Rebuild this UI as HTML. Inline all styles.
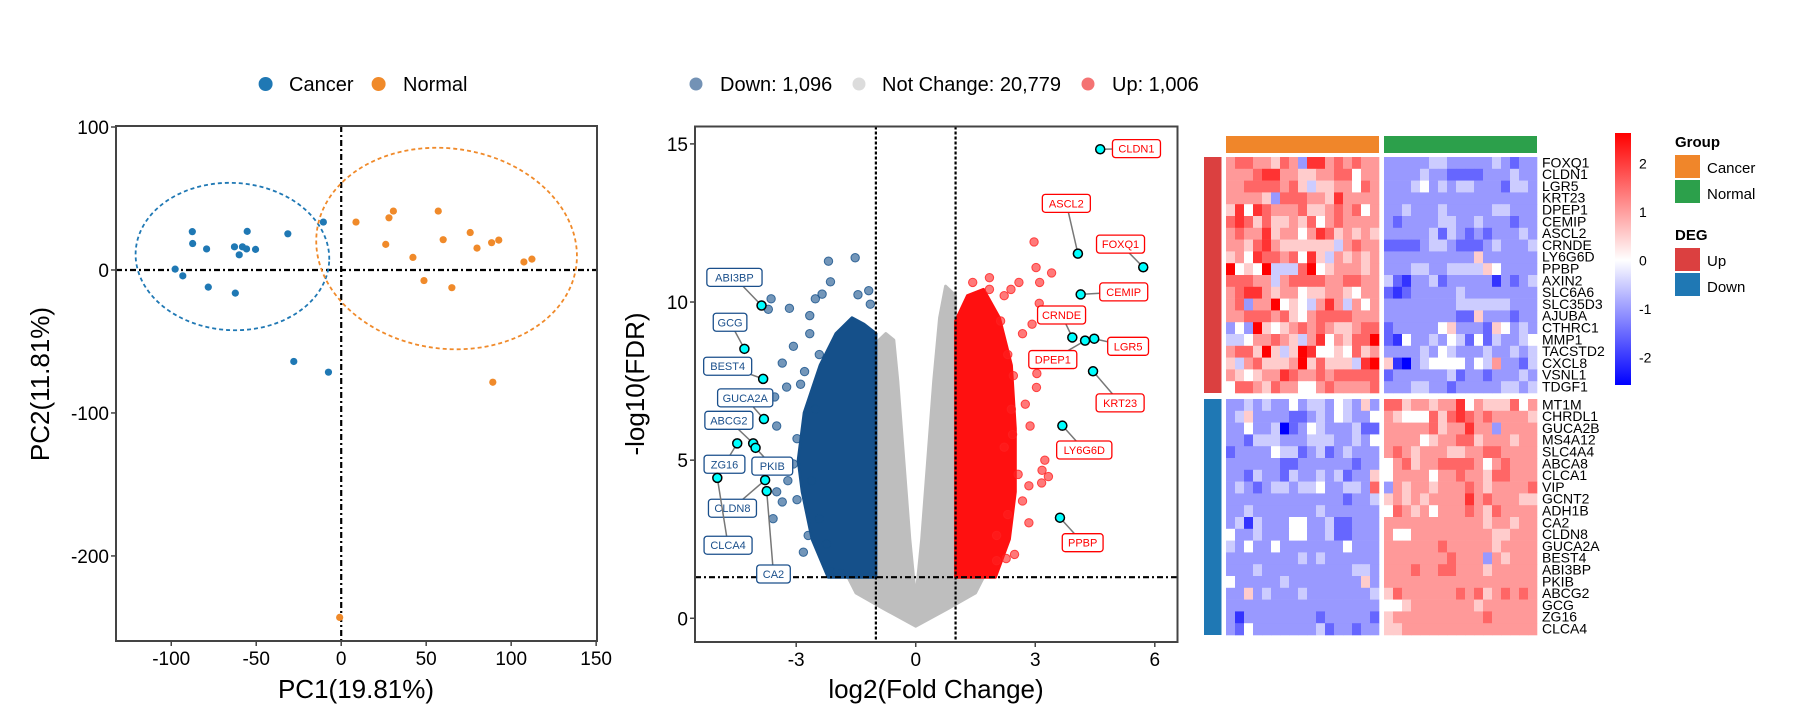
<!DOCTYPE html>
<html><head><meta charset="utf-8">
<style>
html,body{margin:0;padding:0;background:#fff;}
svg{display:block;font-family:"Liberation Sans",Arial,sans-serif;}
</style></head>
<body>
<svg id="fig" width="1800" height="720" viewBox="0 0 1800 720" xmlns="http://www.w3.org/2000/svg">
<g id="pca"></g>
<g id="volcano"></g>
<g id="heat"></g>
</svg>
<script>
// ---------------- PCA data ----------------
const pcaCancerX = [-97.7,-93.2,-87.6,-87.4,-79.2,-78.2,-62.8,-62.3,-60,-58.1,-55.7,-55.3,-50.4,-31.4,-10.5,-27.9,-7.5];
const pcaCancerY = [0.6,-4.1,26.8,18.5,14.7,-12,16.2,-16.2,10.6,16.2,14.7,27,14.4,25.3,33.5,-64,-71.5];
const pcaNormalX = [8.7,26.2,28.1,30.7,42.2,48.7,57.1,60,65.1,75.9,79.9,88.5,92.7,107.5,112.2,89.2,-0.9];
const pcaNormalY = [33.5,17.9,36.5,41.2,8.8,-7.4,41.2,21.2,-12.4,26.2,15.3,19.1,20.9,5.6,7.6,-78.5,-243];
const pcaXTicks = [-100,-50,0,50,100,150];
const pcaYTicks = [100,0,-100,-200];
const pcaEllipseCancer = [-64,9.4,57,51.5];
const pcaEllipseNormal = [62,15,77,70];

// ---------------- Volcano data ----------------
const volXTicks = [-3,0,3,6];
const volYTicks = [0,5,10,15];
const volLegend = ["Down: 1,096","Not Change: 20,779","Up: 1,006"];
const grayCloudX = [0,0.8,1.5,1.7,1,1,0.75,0.6,0.45,0.3,0.15,0,-0.15,-0.3,-0.45,-0.55,-0.75,-1,-1,-1.7,-1.5,-0.8];
const grayCloudY = [-0.25,0.3,0.8,1.3,1.3,10.2,10.5,9.5,7.5,5,2.5,0.6,2.5,5,7.5,8.8,9,8.7,1.3,1.3,0.8,0.3];
const blueCloudX = [-1,-1,-1.3,-1.6,-2.0,-2.4,-2.8,-2.95,-2.85,-2.6,-2.2];
const blueCloudY = [1.3,9,9.3,9.5,9,8,6.5,5,4,2.5,1.3];
const redCloudX = [1,1,1.3,1.7,2.1,2.4,2.5,2.5,2.35,2.0];
const redCloudY = [1.3,9.4,10.2,10.4,9.5,8,6,4,2.5,1.3];
const downX = [-2.19,-1.52,-2.14,-2.35,-2.52,-3.17,-3.63,-3.7,-2.66,-1.18,-1.45,-1.14,-3.35,-3.07,-3.54,-3.24,-3.49,-2.89,-3.35,-3.58,-3.35,-3.49,-2.98,-2.82,-2.7,-2.14,-1.87,-2.61,-2.98,-2.52,-2.42,-2.66,-2.79,-3.07,-3.21,-2.42,-2.24];
const downY = [11.29,11.4,10.64,10.25,10.1,9.8,10.1,9.77,9.57,10.36,10.23,9.93,8.07,8.6,7.0,7.31,6.08,7.4,4.88,3.15,3.68,4.0,3.75,2.09,2.62,1.49,1.42,4.35,5.68,6.61,8.34,9.0,7.8,4.88,4.35,3.15,2.35];
const upX = [2.97,3.02,3.41,3.11,2.59,2.39,2.92,2.68,3.1,3.04,3.03,2.45,2.75,2.87,2.43,3.24,3.17,3.33,3.16,2.84,2.68,2.84,2.48,2.27,2.03,2.57,1.85,1.43,2.22,1.85,2.13,2.31,2.4,2.22,2.31,2.03];
const upY = [11.9,11.09,10.92,10.62,10.62,10.4,9.3,9.0,9.96,7.74,7.3,7.67,6.77,6.08,5.81,5.0,4.68,4.48,4.28,4.19,3.71,3.02,2.02,1.89,1.82,4.55,10.77,10.62,10.2,10.4,9.4,8.34,6.61,5.41,3.28,2.62];
const hlGenes = ["CLDN1","ASCL2","FOXQ1","CEMIP","CRNDE","DPEP1","LGR5","KRT23","LY6G6D","PPBP","ABI3BP","GCG","BEST4","GUCA2A","ABCG2","ZG16","PKIB","CLDN8","CA2","CLCA4"];
const hlX = [4.63,4.07,5.71,4.14,3.93,4.25,4.48,4.45,3.68,3.62,-3.87,-4.3,-3.83,-3.81,-4.08,-4.48,-4.02,-3.78,-3.74,-4.98];
const hlY = [14.83,11.53,11.1,10.24,8.88,8.78,8.84,7.81,6.09,3.18,9.89,8.52,7.57,6.3,5.53,5.53,5.39,4.37,4.02,4.44];
const hlLabX = [5.54,3.78,5.14,5.22,3.66,3.44,5.33,5.13,4.23,4.19,-4.55,-4.66,-4.72,-4.28,-4.69,-4.8,-3.6,-4.6,-3.57,-4.71];
const hlLabY = [14.85,13.12,11.83,10.32,9.59,8.18,8.6,6.81,5.32,2.39,10.78,9.36,7.97,6.97,6.26,4.87,4.81,3.48,1.4,2.31];
const hlDir = ["up","up","up","up","up","up","up","up","up","up","down","down","down","down","down","down","down","down","down","down"];

// ---------------- Heatmap data ----------------
const upGenes = ["FOXQ1","CLDN1","LGR5","KRT23","DPEP1","CEMIP","ASCL2","CRNDE","LY6G6D","PPBP","AXIN2","SLC6A6","SLC35D3","AJUBA","CTHRC1","MMP1","TACSTD2","CXCL8","VSNL1","TDGF1"];
const downGenes = ["MT1M","CHRDL1","GUCA2B","MS4A12","SLC4A4","ABCA8","CLCA1","VIP","GCNT2","ADH1B","CA2","CLDN8","GUCA2A","BEST4","ABI3BP","PKIB","ABCG2","GCG","ZG16","CLCA4"];
// digit code: value = (d-5)/2, 'A' = 2.5 ; first string = Cancer samples, second = Normal samples
const upCancer = ["78877687399787877","77789977667788577","77888878646677587","77776388877697777","69598777866787857","89868667685787777","78779677579867676","77689766666647877","67598878596476767","A565A4448A5677767","88877478888778877","78997677566776577","78377A56547974757","77888786578888777","353A6567878766788","4457787647957688A","7886A646A95565867","64786667A6866649A","76567798778788888","58876877557877778"];
const upNormal = ["33333443333343233","33334332222333433","33345343443332443","33333333333333333","33433343333344333","32333344334333233","33333424323233343","22223443222343334","33333333336333333","33344334444653333","42133423333313234","21233333433333333","33333333444444333","33333333226333233","23333356333265343","21533435425243345","33334354333433434","61034555535473324","23333334233233343","33344332333334434"];
const downCancer = ["33434335344354363","34633332234354335","33533402354333422","33244433344433435","23333544234234333","33333322333333233","33243324334342336","34323443445334438","33333333333332334","33433333334333333","34143335533422333","53343335533422333","43533533333335333","33333333434333333","33343333333333443","53333343333333363","33634333433333334","33333333333333333","31333333332333332","32533333334233233"];
const downNormal = ["88677677957666857","76555868987877776","77777867797737777","77775677886777677","78767776677887777","57867788887578777","57777577877688777","37677677787677778","67676777797877766","58767577787687777","77777777777677677","75577777777766777","77777787777767777","77777778777376777","77787788777677777","77777777777777777","68777777878678787","55677777776777777","67777777777877777","66777777777777777"];
const cbTicks = [2,1,0,-1,-2];

const NS = "http://www.w3.org/2000/svg";
function mk(parent, tag, attrs, text){
  const e = document.createElementNS(NS, tag);
  for (const k in attrs) e.setAttribute(k, attrs[k]);
  if (text !== undefined) e.textContent = text;
  parent.appendChild(e);
  return e;
}

// =============== PCA ===============
(function(){
  const g = document.getElementById('pca');
  const L=116,R=597,T=126,B=641;
  const x0=-132.5,x1=150.5,y0=-259.5,y1=100.7;
  const sx=v=>L+(v-x0)/(x1-x0)*(R-L);
  const sy=v=>B-(v-y0)/(y1-y0)*(B-T);
  const clip = mk(g,'clipPath',{id:'pcaclip'}); mk(clip,'rect',{x:L,y:T,width:R-L,height:B-T});
  const inner = mk(g,'g',{'clip-path':'url(#pcaclip)'});
  let e;
  e = mk(inner,'line',{x1:L,x2:R,y1:sy(0),y2:sy(0),stroke:'#000','stroke-width':2.2,'stroke-dasharray':'6 3 2 3'});
   
  e = mk(inner,'line',{x1:sx(0),x2:sx(0),y1:T,y2:B,stroke:'#000','stroke-width':2.2,'stroke-dasharray':'6 3 2 3'});
   
  const ell=(d,c,n,rot)=>{
    const cx=sx(d[0]), cy=sy(d[1]);
    const el = mk(inner,'ellipse',{cx:cx,cy:cy,rx:Math.abs(sx(d[0]+d[2])-cx),ry:Math.abs(sy(d[1]+d[3])-cy),fill:'none',stroke:c,'stroke-width':1.8,'stroke-dasharray':'4 3',transform:`rotate(${rot} ${cx} ${cy})`});
     
  };
  ell(pcaEllipseCancer,'#1F78B4','cancer-ellipse',3);
  ell(pcaEllipseNormal,'#F08A2A','normal-ellipse',8);
  pcaCancerX.forEach((v,i)=>{
    const c = mk(inner,'circle',{cx:sx(v),cy:sy(pcaCancerY[i]),r:3.6,fill:'#1F78B4'});
     
  });
  pcaNormalX.forEach((v,i)=>{
    const c = mk(inner,'circle',{cx:sx(v),cy:sy(pcaNormalY[i]),r:3.6,fill:'#F08A2A'});
     
  });
  e = mk(g,'rect',{x:L,y:T,width:R-L,height:B-T,fill:'none',stroke:'#444','stroke-width':2});
   
  pcaXTicks.forEach(t=>{
    mk(g,'line',{x1:sx(t),x2:sx(t),y1:B,y2:B+5,stroke:'#444','stroke-width':1.5});
    const tx = mk(g,'text',{x:sx(t),y:B+24,'text-anchor':'middle','font-size':19,fill:'#000'},String(t));
     
  });
  pcaYTicks.forEach(t=>{
    mk(g,'line',{x1:L-5,x2:L,y1:sy(t),y2:sy(t),stroke:'#444','stroke-width':1.5});
    const tx = mk(g,'text',{x:L-7,y:sy(t)+7,'text-anchor':'end','font-size':19,fill:'#000'},String(t));
     
  });
  e = mk(g,'text',{x:356,y:698,'text-anchor':'middle','font-size':26,fill:'#000'},'PC1(19.81%)');
   
  e = mk(g,'text',{x:0,y:0,'text-anchor':'middle','font-size':26,fill:'#000',transform:'translate(49,384) rotate(-90)'},'PC2(11.81%)');
   
  const lg = mk(g,'g',{});
   
  e = mk(lg,'circle',{cx:265.6,cy:84,r:7,fill:'#1F78B4'});  
  e = mk(lg,'text',{x:289,y:91,'font-size':20,fill:'#000'},'Cancer');  
  e = mk(lg,'circle',{cx:378.6,cy:84,r:7,fill:'#F08A2A'});  
  e = mk(lg,'text',{x:403,y:91,'font-size':20,fill:'#000'},'Normal');  
})();

// =============== Volcano ===============
(function(){
  const g = document.getElementById('volcano');
  const L=695,R=1177.5,T=126.5,B=642;
  const x0=-5.54,x1=6.57,y0=-0.75,y1=15.55;
  const sx=v=>L+(v-x0)/(x1-x0)*(R-L);
  const sy=v=>B-(v-y0)/(y1-y0)*(B-T);
  const clip = mk(g,'clipPath',{id:'volclip'}); mk(clip,'rect',{x:L,y:T,width:R-L,height:B-T});
  const inner = mk(g,'g',{'clip-path':'url(#volclip)'});
  const poly=(xs,ys,fill,name)=>{
    const p = mk(inner,'polygon',{points:xs.map((v,i)=>sx(v).toFixed(1)+','+sy(ys[i]).toFixed(1)).join(' '),fill:fill,stroke:fill,'stroke-width':3,'stroke-linejoin':'round'});
     
  };
  poly(grayCloudX,grayCloudY,'#BEBEBE','not-change-cloud');
  poly(blueCloudX,blueCloudY,'#15508A','down-cloud');
  poly(redCloudX,redCloudY,'#FF1010','up-cloud');
  downX.forEach((v,i)=>{
    const c = mk(inner,'circle',{cx:sx(v),cy:sy(downY[i]),r:4.2,fill:'#15508A','fill-opacity':0.6,stroke:'#15508A','stroke-opacity':0.8,'stroke-width':1});
     
  });
  upX.forEach((v,i)=>{
    const c = mk(inner,'circle',{cx:sx(v),cy:sy(upY[i]),r:4.2,fill:'#FF2020','fill-opacity':0.6,stroke:'#FF2020','stroke-opacity':0.8,'stroke-width':1});
     
  });
  const dl = {stroke:'#000','stroke-width':2.2,'stroke-dasharray':'3 2'};
  let e;
  e = mk(inner,'line',Object.assign({x1:sx(-1),x2:sx(-1),y1:T,y2:B},dl));  
  e = mk(inner,'line',Object.assign({x1:sx(1),x2:sx(1),y1:T,y2:B},dl));  
  e = mk(inner,'line',{x1:L,x2:R,y1:sy(1.3),y2:sy(1.3),stroke:'#000','stroke-width':2.2,'stroke-dasharray':'6 3 2 3'});
   
  hlGenes.forEach((gn,i)=>{
    const col = hlDir[i]==='up' ? '#FF0000' : '#1A4F8B';
    const px=sx(hlX[i]), py=sy(hlY[i]), lx=sx(hlLabX[i]), ly=sy(hlLabY[i]);
    const ln = mk(inner,'line',{x1:px,y1:py,x2:lx,y2:ly,stroke:'#777','stroke-width':1.5});
     
    const w = gn.length*7.2+12, h=18;
    const r = mk(inner,'rect',{x:lx-w/2,y:ly-h/2,width:w,height:h,rx:3,fill:'#fff',stroke:col,'stroke-width':1.3});
     
    const t = mk(inner,'text',{x:lx,y:ly+4,'text-anchor':'middle','font-size':11,fill:col},gn);
     
    const c = mk(inner,'circle',{cx:px,cy:py,r:4.5,fill:'#00FFFF',stroke:'#000','stroke-width':1.5});
     
  });
  e = mk(g,'rect',{x:L,y:T,width:R-L,height:B-T,fill:'none',stroke:'#444','stroke-width':2});
   
  volXTicks.forEach(t=>{
    mk(g,'line',{x1:sx(t),x2:sx(t),y1:B,y2:B+5,stroke:'#444','stroke-width':1.5});
    const tx = mk(g,'text',{x:sx(t),y:B+24,'text-anchor':'middle','font-size':19,fill:'#000'},String(t));
     
  });
  volYTicks.forEach(t=>{
    mk(g,'line',{x1:L-5,x2:L,y1:sy(t),y2:sy(t),stroke:'#444','stroke-width':1.5});
    const tx = mk(g,'text',{x:L-7,y:sy(t)+7,'text-anchor':'end','font-size':19,fill:'#000'},String(t));
     
  });
  e = mk(g,'text',{x:936,y:698,'text-anchor':'middle','font-size':26,fill:'#000'},'log2(Fold Change)');
   
  e = mk(g,'text',{x:0,y:0,'text-anchor':'middle','font-size':26,fill:'#000',transform:'translate(644,384) rotate(-90)'},'-log10(FDR)');
   
  const lg = mk(g,'g',{});
   
  const lcol=['#5B7FA8','#D6D6D6','#F25A5A'], lcx=[696,859,1088], ltx=[720,882,1112];
  volLegend.forEach((s,i)=>{
    const c = mk(lg,'circle',{cx:lcx[i],cy:84,r:6.5,fill:lcol[i],'fill-opacity':0.85});
     
    const t = mk(lg,'text',{x:ltx[i],y:91,'font-size':20,fill:'#000'},s);
     
  });
})();

// =============== Heatmap ===============
(function(){
  const g = document.getElementById('heat');
  const cL=1226, nL=1384, cw=9, rh=11.8, upTop=157, downTop=399;
  const norm = s => { s = s.slice(0,17); while (s.length<17) s += s[s.length-1]; return s; };
  const val = ch => (ch==='A' ? 10 : +ch) / 2 - 2.5;
  const colr = v => {
    v = Math.max(-2.5, Math.min(2.5, v));
    const f = Math.abs(v)/2.5;
    const k = Math.round(255*(1-f));
    return v>=0 ? `rgb(255,${k},${k})` : `rgb(${k},${k},255)`;
  };
  const drawBlock=(genes,cs,ns,top,name)=>{
    const bg = mk(g,'g',{});
     
    genes.forEach((gn,r)=>{
      const y = top + r*rh;
      [[norm(cs[r]),cL],[norm(ns[r]),nL]].forEach(([str,x0])=>{
        for (let j=0;j<17;j++){
          const c = mk(bg,'rect',{x:x0+j*cw,y:y,width:cw+0.3,height:rh+0.3,fill:colr(val(str[j]))});
           
        }
      });
      const t = mk(g,'text',{x:1542,y:y+rh-1.5,'font-size':14,fill:'#000'},gn);
       
    });
  };
  drawBlock(upGenes,upCancer,upNormal,upTop,'heatmap-up-block');
  drawBlock(downGenes,downCancer,downNormal,downTop,'heatmap-down-block');
  let e;
  e = mk(g,'rect',{x:cL,y:136,width:153,height:17,fill:'#F0862A'});  
  e = mk(g,'rect',{x:nL,y:136,width:153,height:17,fill:'#2CA04B'});  
  e = mk(g,'rect',{x:1204,y:upTop,width:17.5,height:20*rh,fill:'#DB4040'});  
  e = mk(g,'rect',{x:1204,y:downTop,width:17.5,height:20*rh,fill:'#1F78B4'});  
  const defs = mk(g,'defs',{});
  const lgd = mk(defs,'linearGradient',{id:'cbg',x1:0,y1:0,x2:0,y2:1});
  mk(lgd,'stop',{offset:'0','stop-color':'#FF0000'});
  mk(lgd,'stop',{offset:'0.504','stop-color':'#FFFFFF'});
  mk(lgd,'stop',{offset:'1','stop-color':'#0000FF'});
  e = mk(g,'rect',{x:1615,y:133,width:16,height:252,fill:'url(#cbg)'});  
  const cy = v => 260.5 - v*48.5;
  cbTicks.forEach(t=>{
    const tx = mk(g,'text',{x:1639,y:cy(t)+5,'font-size':14,fill:'#000'},String(t));
     
  });
  const lg = mk(g,'g',{});
   
  const items = [
    ['text',1675,147,'Group',true],['rect',1675,155,'#F0862A'],['text',1707,173,'Cancer'],
    ['rect',1675,180,'#2CA04B'],['text',1707,199,'Normal'],
    ['text',1675,240,'DEG',true],['rect',1675,248,'#DB4040'],['text',1707,266,'Up'],
    ['rect',1675,273,'#1F78B4'],['text',1707,292,'Down']
  ];
  items.forEach(it=>{
    if (it[0]==='rect'){
      const r = mk(lg,'rect',{x:it[1],y:it[2],width:25,height:23,fill:it[3]});
       
    } else {
      const t = mk(lg,'text',{x:it[1],y:it[2],'font-size':15,'font-weight':it[4]?'bold':'normal',fill:'#000'},it[3]);
      
      
    }
  });
})();
</script>
</body></html>
